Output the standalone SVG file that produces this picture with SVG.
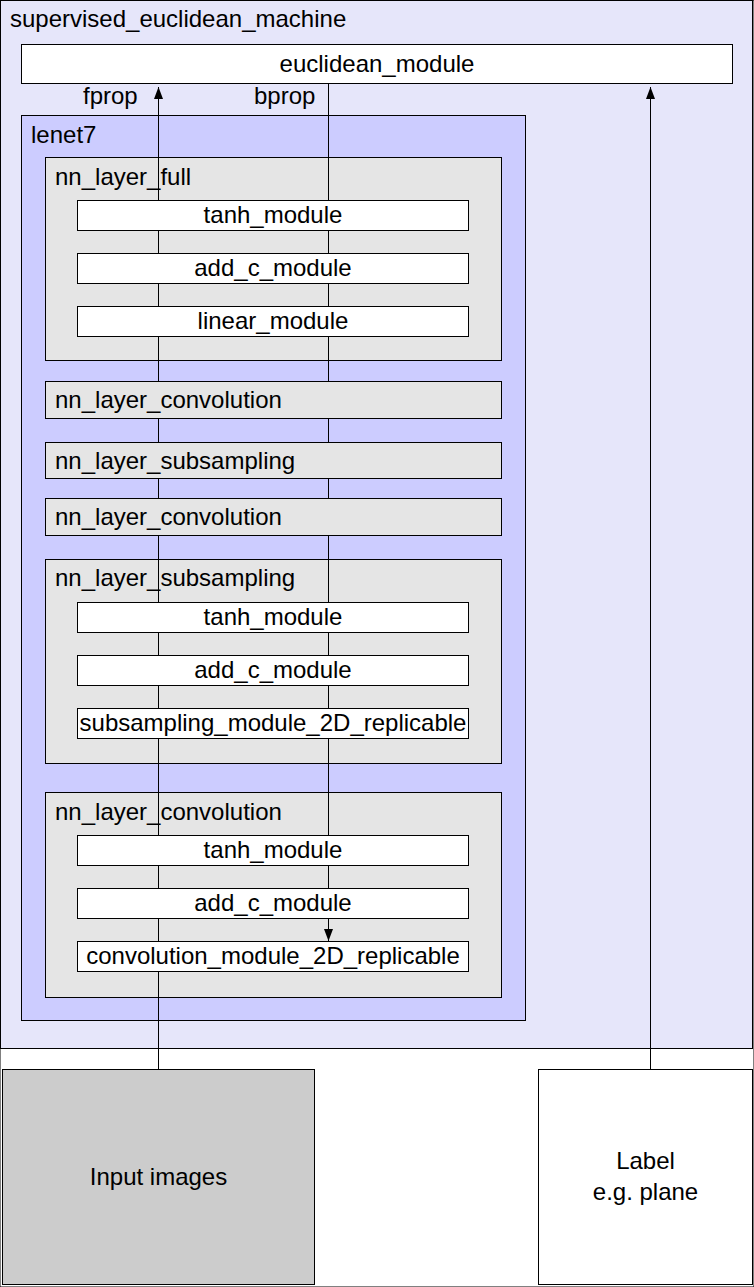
<svg xmlns="http://www.w3.org/2000/svg" width="754" height="1287" viewBox="0 0 754 1287">
<style>
rect{stroke:#000;stroke-width:1}
.outer{fill:#e6e6fa}
.lenet{fill:#ccccff}
.layer{fill:#e5e5e5}
.mod{fill:#ffffff}
.input{fill:#cccccc}
text{font-family:"Liberation Sans",Arial,sans-serif;font-size:24px;fill:#000}
.c{text-anchor:middle}
.conn{stroke:#000;stroke-width:1;fill:none}
</style>
<defs>
<marker id="ah" markerUnits="userSpaceOnUse" markerWidth="12" markerHeight="10" refX="12" refY="4.5" orient="auto">
<path d="M0,0 L12,4.5 L0,9 z" fill="#000"/>
</marker>
</defs>
<rect width="754" height="1287" fill="#fff" stroke="none"/>
<g id="supervised_euclidean_machine">
<rect class="outer" x="0.5" y="0.5" width="752" height="1048"/>
<text x="10" y="27">supervised_euclidean_machine</text>
</g>
<g id="lenet7">
<rect class="lenet" x="21.5" y="115.5" width="504" height="905"/>
<text x="31" y="143">lenet7</text>
</g>
<g id="nn_layer_full">
<rect class="layer" x="45.5" y="157.5" width="456" height="203"/>
<text x="55" y="185">nn_layer_full</text>
</g>
<g id="nn_layer_subsampling_2">
<rect class="layer" x="45.5" y="559.5" width="456" height="204"/>
<text x="55" y="586">nn_layer_subsampling</text>
</g>
<g id="nn_layer_convolution_3">
<rect class="layer" x="45.5" y="792.5" width="456" height="205"/>
<text x="55" y="820">nn_layer_convolution</text>
</g>
<g id="connectors">
<path class="conn" d="M158.5,1069 V87" marker-end="url(#ah)"/>
<path class="conn" d="M328.5,84 V941" marker-end="url(#ah)"/>
<path class="conn" d="M650.5,1069 V87" marker-end="url(#ah)"/>
</g>
<g id="euclidean_module">
<rect class="mod" x="21.5" y="44.5" width="711" height="39"/>
<text class="c" x="377" y="72">euclidean_module</text>
</g>
<g id="fprop_label"><text x="83" y="104">fprop</text></g>
<g id="bprop_label"><text x="254" y="104">bprop</text></g>
<g id="tanh_module_1">
<rect class="mod" x="77.5" y="200.5" width="391" height="30"/>
<text class="c" x="273" y="223">tanh_module</text>
</g>
<g id="add_c_module_1">
<rect class="mod" x="77.5" y="253.5" width="391" height="30"/>
<text class="c" x="273" y="276">add_c_module</text>
</g>
<g id="linear_module">
<rect class="mod" x="77.5" y="306.5" width="391" height="30"/>
<text class="c" x="273" y="329">linear_module</text>
</g>
<g id="nn_layer_convolution_1">
<rect class="layer" x="45.5" y="381.5" width="456" height="37"/>
<text x="55" y="408">nn_layer_convolution</text>
</g>
<g id="nn_layer_subsampling_1">
<rect class="layer" x="45.5" y="442.5" width="456" height="36"/>
<text x="55" y="468.5">nn_layer_subsampling</text>
</g>
<g id="nn_layer_convolution_2">
<rect class="layer" x="45.5" y="498.5" width="456" height="37"/>
<text x="55" y="525">nn_layer_convolution</text>
</g>
<g id="tanh_module_2">
<rect class="mod" x="77.5" y="602.5" width="391" height="30"/>
<text class="c" x="273" y="625">tanh_module</text>
</g>
<g id="add_c_module_2">
<rect class="mod" x="77.5" y="655.5" width="391" height="30"/>
<text class="c" x="273" y="678">add_c_module</text>
</g>
<g id="subsampling_module_2D_replicable">
<rect class="mod" x="77.5" y="708.5" width="391" height="30"/>
<text class="c" x="273" y="731">subsampling_module_2D_replicable</text>
</g>
<g id="tanh_module_3">
<rect class="mod" x="77.5" y="835.5" width="391" height="30"/>
<text class="c" x="273" y="858">tanh_module</text>
</g>
<g id="add_c_module_3">
<rect class="mod" x="77.5" y="888.5" width="391" height="30"/>
<text class="c" x="273" y="911">add_c_module</text>
</g>
<g id="convolution_module_2D_replicable">
<rect class="mod" x="77.5" y="941.5" width="391" height="30"/>
<text class="c" x="273" y="964">convolution_module_2D_replicable</text>
</g>
<g id="input_images">
<rect class="input" x="2.5" y="1069.5" width="312" height="215"/>
<text class="c" x="158.5" y="1185">Input images</text>
</g>
<g id="label">
<rect class="mod" x="538.5" y="1069.5" width="214" height="215"/>
<text class="c" x="645.5" y="1169">Label</text>
<text class="c" x="645.5" y="1200">e.g. plane</text>
</g>
</svg>
